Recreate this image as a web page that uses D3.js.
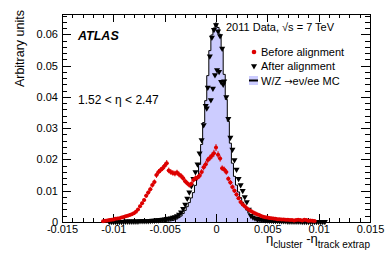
<!DOCTYPE html>
<html>
<head>
<meta charset="utf-8">
<script src="https://cdn.jsdelivr.net/npm/d3@7"></script>
<style>
body { margin: 0; background: #fff; }
text { font-family: "Liberation Sans", Arial, sans-serif; fill: #000; }
</style>
</head>
<body>
<script>
// bin centres are start + i*binStep
const binStep = 0.0002;

// W/Z -> ev/ee MC histogram
const mcStart = -0.0060;
const mcValues = [
  0.0001,0.0001,0.0001,0.0002,0.0002,0.0002,0.0003,0.0003,0.0004,0.0005,
  0.0007,0.0010,0.0014,0.0019,0.0027,0.0037,0.0049,0.0062,0.0077,0.0094,
  0.0117,0.0144,0.0184,0.0248,0.0318,0.0388,0.0468,0.0548,0.0598,0.0620,
  0.0636,
  0.0622,0.0600,0.0552,0.0472,0.0392,0.0322,0.0252,0.0188,0.0146,0.0118,
  0.0096,0.0078,0.0063,0.0050,0.0038,0.0028,0.0020,0.0015,0.0011,0.0008,
  0.0006,0.0004,0.0003,0.0003,0.0002,0.0002,0.0001,0.0001,0.0001,0.0001
];

// after alignment
const afterStart = -0.0104;
const afterValues = [
  0.0001,0.0001,0.0001,0.0001,0.0001,0.0001,0.0001,0.0001,
  0.0002,0.0002,0.0002,0.0002,0.0002,0.0002,0.0002,
  0.0003,0.0003,0.0003,0.0003,0.0003,
  0.0004,0.0005,0.0005,
  0.0006,0.0006,0.0007,0.0008,0.0009,
  0.0010,0.0011,0.0012,0.0014,0.0016,0.0019,0.0024,0.0031,0.0042,0.0056,
  0.0075,0.0095,0.0115,0.0138,0.0160,0.0185,0.0220,0.0262,0.0310,0.0372,
  0.0430,0.0530,0.0590,0.0615,
  0.0630,
  0.0610,0.0595,0.0555,0.0450,0.0400,0.0330,0.0270,0.0232,0.0198,0.0168,
  0.0138,0.0118,0.0100,0.0080,0.0064,0.0040,0.0020,0.0015,0.0012,0.0010,
  0.0009,0.0008,0.0007,0.0006,0.0006,0.0005,0.0005,0.0004,0.0004,0.0004,
  0.0003,
  0.0003,0.0003,0.0003,
  0.0002,0.0002,0.0002,0.0002,0.0002,0.0002,0.0002,
  0.0001,0.0001,0.0001,0.0001,0.0001,0.0001,0.0001,0.0001,0.0001,0.0001,0.0001,0.0001
];
// after alignment, low points in the core
const afterCoreX = [-0.0009, -0.0005, -0.0003, -0.0001, 0.0001, 0.0003, 0.0005, 0.0007];
const afterCoreY = [0.0364, 0.0390, 0.0427, 0.0470, 0.0486, 0.0480, 0.0448, 0.0440];

// before alignment
const beforeStart = -0.0110;
const beforeValues = [
  0.0002,0.0004,0.0005,0.0006,0.0007,0.0008,0.0010,0.0011,0.0012,0.0014,
  0.0016,0.0018,0.0020,0.0022,0.0025,0.0028,0.0033,0.0040,0.0050,0.0060,
  0.0070,0.0084,0.0094,0.0105,0.0118,0.0128,0.0150,0.0160,0.0166,0.0172,
  0.0180,0.0188,0.0165,0.0160,0.0157,0.0155,0.0158,0.0152,0.0147,0.0140,
  0.0130,0.0124,0.0118,0.0122,0.0134,0.0140,0.0142,0.0148,0.0160,0.0175,
  0.0185,0.0198,0.0205,0.0212,0.0220,0.0238,0.0215,0.0203,0.0172,0.0168,
  0.0160,0.0138,0.0126,0.0112,0.0100,0.0088,0.0076,0.0064,0.0056,0.0050,
  0.0044,0.0039,0.0035,0.0031,0.0028,0.0025,0.0022,0.0019,0.0017,0.0015,
  0.0014,0.0013,0.0012,0.0011,0.0010,0.0009,0.0009,0.0008,0.0008,0.0007,
  0.0007,0.0006,0.0006,0.0005,0.0006,0.0007,0.0006,0.0005,0.0007,0.0006,
  0.0004,0.0005,0.0004,0.0003
];
const beforeErrors = [
  0.0001,0.0002,0.0002,0.0002,0.0002,0.0002,0.0003,0.0003,0.0003,0.0003,
  0.0003,0.0003,0.0003,0.0004,0.0004,0.0004,0.0004,0.0005,0.0005,0.0006,
  0.0006,0.0007,0.0007,0.0008,0.0008,0.0008,0.0009,0.0009,0.0009,0.0009,
  0.0010,0.0010,0.0009,0.0009,0.0009,0.0009,0.0009,0.0009,0.0009,0.0009,
  0.0008,0.0008,0.0008,0.0008,0.0008,0.0009,0.0009,0.0009,0.0009,0.0010,
  0.0010,0.0010,0.0010,0.0010,0.0011,0.0011,0.0011,0.0010,0.0009,0.0009,
  0.0009,0.0008,0.0008,0.0008,0.0007,0.0007,0.0006,0.0006,0.0005,0.0005,
  0.0005,0.0005,0.0004,0.0004,0.0004,0.0004,0.0003,0.0003,0.0003,0.0003,
  0.0003,0.0003,0.0003,0.0003,0.0002,0.0002,0.0002,0.0002,0.0002,0.0002,
  0.0002,0.0002,0.0002,0.0002,0.0002,0.0002,0.0002,0.0002,0.0002,0.0002,
  0.0002,0.0002,0.0002,0.0002
];

const xTicks = [-0.015, -0.01, -0.005, 0, 0.005, 0.01, 0.015];
const xTickLabels = ["-0.015", "-0.01", "-0.005", "0", "0.005", "0.01", "0.015"];
const yTicks = [0, 0.01, 0.02, 0.03, 0.04, 0.05, 0.06];
const yTickLabels = ["0", "0.01", "0.02", "0.03", "0.04", "0.05", "0.06"];

const width = 390, height = 265;
const frameL = 62, frameR = 370, frameT = 14, frameB = 222;

const x = d3.scaleLinear().domain([-0.015, 0.015]).range([frameL, frameR]);
const y = d3.scaleLinear().domain([0, 0.0665]).range([frameB, frameT]);

const svg = d3.select("body").append("svg")
    .attr("width", width)
    .attr("height", height);

const toPoints = (start, vals) => vals.map((v, i) => ({x: start + i * binStep, y: v}));
const mc = toPoints(mcStart, mcValues);
const after = toPoints(afterStart, afterValues)
    .concat(afterCoreX.map((c, i) => ({x: c, y: afterCoreY[i]})));
const before = toPoints(beforeStart, beforeValues)
    .map((d, i) => ({...d, e: beforeErrors[i]}));

// MC histogram
const edges = [];
mc.forEach(d => {
  edges.push([d.x - binStep / 2, d.y]);
  edges.push([d.x + binStep / 2, d.y]);
});
svg.append("path")
    .attr("d", d3.area().x(d => x(d[0])).y0(y(0)).y1(d => y(d[1]))(edges))
    .attr("fill", "#ccccff");
const outline = [[edges[0][0], 0]].concat(edges, [[edges[edges.length - 1][0], 0]]);
svg.append("path")
    .attr("d", d3.line().x(d => x(d[0])).y(d => y(d[1]))(outline))
    .attr("fill", "none")
    .attr("stroke", "#000")
    .attr("stroke-width", 1);

// axes, ticks on all four sides pointing in
const xMinor = d3.range(-15, 16).map(d => d / 1000);
const yMinor = d3.range(0, 34).map(d => d * 0.002);
function drawAxis(axis, tr) {
  const g = svg.append("g").attr("transform", tr).call(axis);
  g.select(".domain").remove();
  g.selectAll("line").attr("stroke", "#000").attr("shape-rendering", "crispEdges");
  g.selectAll("text").attr("font-size", 11).attr("fill", "#000")
      .style("font-family", "'Liberation Sans', Arial, sans-serif");
  return g;
}
drawAxis(d3.axisBottom(x).tickValues(xTicks).tickFormat((d, i) => xTickLabels[i])
    .tickSizeInner(-8).tickSizeOuter(0).tickPadding(3), `translate(0,${frameB})`);
drawAxis(d3.axisBottom(x).tickValues(xMinor).tickFormat("").tickSizeInner(-4).tickSizeOuter(0),
    `translate(0,${frameB})`);
drawAxis(d3.axisTop(x).tickValues(xTicks).tickFormat("").tickSizeInner(-8).tickSizeOuter(0),
    `translate(0,${frameT})`);
drawAxis(d3.axisTop(x).tickValues(xMinor).tickFormat("").tickSizeInner(-4).tickSizeOuter(0),
    `translate(0,${frameT})`);
drawAxis(d3.axisLeft(y).tickValues(yTicks).tickFormat((d, i) => yTickLabels[i])
    .tickSizeInner(-9).tickSizeOuter(0).tickPadding(4), `translate(${frameL},0)`);
drawAxis(d3.axisLeft(y).tickValues(yMinor).tickFormat("").tickSizeInner(-5).tickSizeOuter(0),
    `translate(${frameL},0)`);
drawAxis(d3.axisRight(y).tickValues(yTicks).tickFormat("").tickSizeInner(-9).tickSizeOuter(0),
    `translate(${frameR},0)`);
drawAxis(d3.axisRight(y).tickValues(yMinor).tickFormat("").tickSizeInner(-5).tickSizeOuter(0),
    `translate(${frameR},0)`);

svg.append("rect")
    .attr("x", frameL + 0.5).attr("y", frameT + 0.5)
    .attr("width", frameR - frameL).attr("height", frameB - frameT)
    .attr("fill", "none").attr("stroke", "#000");

// after alignment markers
const tri = d3.symbol().type(d3.symbolTriangle).size(16);
svg.append("g").selectAll("path").data(after).join("path")
    .attr("d", tri)
    .attr("transform", d => `translate(${x(d.x)},${y(d.y)}) rotate(180)`)
    .attr("fill", "#000");

// before alignment markers with errors
const gb = svg.append("g");
gb.selectAll("line.ev").data(before).join("line")
    .attr("class", "ev")
    .attr("x1", d => x(d.x)).attr("x2", d => x(d.x))
    .attr("y1", d => y(d.y - d.e)).attr("y2", d => y(d.y + d.e))
    .attr("stroke", "#dd0000").attr("stroke-width", 1);
gb.selectAll("line.eh").data(before).join("line")
    .attr("class", "eh")
    .attr("x1", d => x(d.x - binStep / 2) - 1).attr("x2", d => x(d.x + binStep / 2) + 1)
    .attr("y1", d => y(d.y)).attr("y2", d => y(d.y))
    .attr("stroke", "#dd0000").attr("stroke-width", 1);
gb.selectAll("circle").data(before).join("circle")
    .attr("cx", d => x(d.x)).attr("cy", d => y(d.y)).attr("r", 2)
    .attr("fill", "#dd0000");

// labels
svg.append("text").attr("x", 78).attr("y", 39.5)
    .attr("font-size", 12.5).attr("font-weight", "bold").attr("font-style", "italic")
    .text("ATLAS");
svg.append("text").attr("x", 78).attr("y", 104).attr("font-size", 12)
    .text("1.52 < η < 2.47");
svg.append("text").attr("x", 226).attr("y", 31).attr("font-size", 11)
    .text("2011 Data, √s = 7 TeV");

// legend
svg.append("circle").attr("cx", 254).attr("cy", 52).attr("r", 2.3).attr("fill", "#dd0000");
svg.append("text").attr("x", 261).attr("y", 56).attr("font-size", 11).text("Before alignment");
svg.append("path").attr("d", tri).attr("transform", "translate(254,66) rotate(180)").attr("fill", "#000");
svg.append("text").attr("x", 261).attr("y", 70).attr("font-size", 11).text("After alignment");
svg.append("rect").attr("x", 249).attr("y", 76).attr("width", 9).attr("height", 9).attr("fill", "#ccccff");
svg.append("line").attr("x1", 249).attr("x2", 258).attr("y1", 80.5).attr("y2", 80.5)
    .attr("stroke", "#000").attr("stroke-width", 2);
const mcLabel = svg.append("text").attr("x", 261).attr("y", 85).attr("font-size", 11);
mcLabel.append("tspan").text("W/Z ");
mcLabel.append("tspan").style("font-family", "'DejaVu Sans', sans-serif").attr("font-size", 10).text("→");
mcLabel.append("tspan").text("eν/ee MC");

// axis titles
svg.append("text")
    .attr("transform", "translate(23.5,10) rotate(-90)")
    .attr("text-anchor", "end").attr("font-size", 12.5)
    .text("Arbitrary units");
const xt = svg.append("text").attr("x", frameR).attr("y", 243).attr("text-anchor", "end");
xt.append("tspan").attr("font-size", 13).text("η");
xt.append("tspan").attr("font-size", 10).attr("dy", 5).text("cluster");
xt.append("tspan").attr("font-size", 13).attr("dy", -5).text(" -η");
xt.append("tspan").attr("font-size", 10).attr("dy", 5).text("track extrap");
</script>
</body>
</html>
